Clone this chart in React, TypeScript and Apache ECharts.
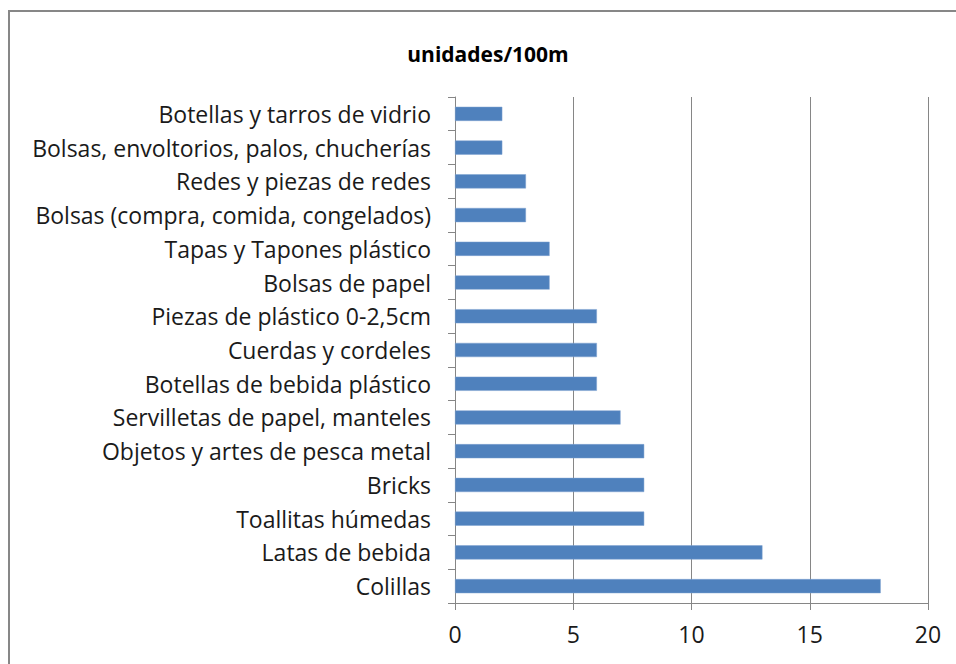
import React, { useEffect, useRef } from "react";
import * as echarts from "echarts";

const categories = [
  "Botellas y tarros de vidrio",
  "Bolsas, envoltorios, palos, chucherías",
  "Redes y piezas de redes",
  "Bolsas (compra, comida, congelados)",
  "Tapas y Tapones plástico",
  "Bolsas de papel",
  "Piezas de plástico 0-2,5cm",
  "Cuerdas y cordeles",
  "Botellas de bebida plástico",
  "Servilletas de papel, manteles",
  "Objetos y artes de pesca metal",
  "Bricks",
  "Toallitas húmedas",
  "Latas de bebida",
  "Colillas",
];
const values = [2, 2, 3, 3, 4, 4, 6, 6, 6, 7, 8, 8, 8, 13, 18];
const titleText = "unidades/100m";

export default function App() {
  const ref = useRef<HTMLDivElement>(null);
  useEffect(() => {
    if (!ref.current) return;
    const chart = echarts.init(ref.current, undefined, { renderer: "svg" });
    const font = "Open Sans";
    chart.setOption({
      animation: false,
      backgroundColor: "#ffffff",
      title: {
        text: titleText,
        left: 483,
        top: 38,
        textAlign: "center",
        textStyle: { fontFamily: font, fontSize: 21, fontWeight: "bold", color: "#000" },
      },
      graphic: [
        {
          type: "rect",
          shape: { x: 9, y: 11, width: 960, height: 670 },
          style: { fill: "none", stroke: "#878787", lineWidth: 2 },
          silent: true,
        },
      ],
      grid: { left: 455, right: 28, top: 97, bottom: 61, containLabel: false },
      xAxis: {
        type: "value",
        min: 0,
        max: 20,
        interval: 5,
        axisLine: { show: true, lineStyle: { color: "#868686" } },
        axisTick: { show: true, length: 7, inside: false, lineStyle: { color: "#868686" } },
        axisLabel: { margin: 19, fontFamily: font, fontSize: 23, color: "#1a1a1a" },
        splitLine: { show: true, lineStyle: { color: "#868686", width: 1 } },
      },
      yAxis: {
        type: "category",
        data: categories,
        inverse: true,
        axisLine: { show: true, lineStyle: { color: "#868686" } },
        axisTick: { show: true, length: 7, lineStyle: { color: "#868686" } },
        axisLabel: { margin: 24, fontFamily: font, fontSize: 23, color: "#1a1a1a" },
        splitLine: { show: false },
      },
      series: [
        {
          type: "bar",
          data: values,
          barCategoryGap: "58%",
          itemStyle: { color: "#4f81bd", borderColor: "#7fa3d0", borderWidth: 0.5 },
        },
      ],
    });
    return () => chart.dispose();
  }, []);
  return (
    <div
      ref={ref}
      style={{ position: "fixed", left: 0, top: 0, width: 956, height: 664 }}
    />
  );
}
